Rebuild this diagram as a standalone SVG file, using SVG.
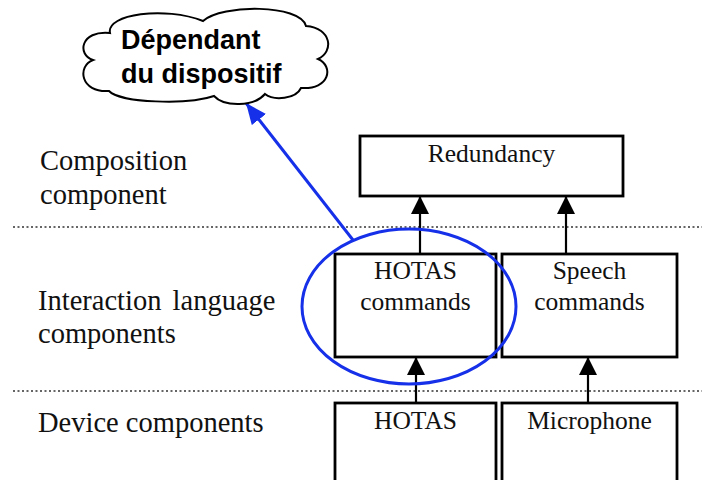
<svg xmlns="http://www.w3.org/2000/svg" width="702" height="480" viewBox="0 0 702 480">
<style>
.box{fill:#fff;stroke:#000;stroke-width:2.8}
.sep{stroke:#333;stroke-width:1.5;stroke-dasharray:2 2.5;fill:none}
.lbl{font-family:"Liberation Serif",serif;font-size:28.5px;fill:#111}
.btx{font-family:"Liberation Serif",serif;font-size:25.5px;fill:#111;text-anchor:middle}
.conn{stroke:#000;stroke-width:2.2;fill:none}
.cloudtx{font-family:"Liberation Sans",Arial,sans-serif;font-size:27px;font-weight:bold;fill:#000}
</style>
<defs>
<marker id="ah" markerUnits="userSpaceOnUse" markerWidth="20" markerHeight="20" viewBox="0 0 20 20" refX="18" refY="10" orient="auto">
<path d="M0,1 L18,10 L0,19 Z" fill="#000"/>
</marker>
<marker id="bh" markerUnits="userSpaceOnUse" markerWidth="22" markerHeight="18" viewBox="0 0 22 18" refX="21" refY="9" orient="auto">
<path d="M0,0 L21,9 L0,18 Z" fill="#1530e8"/>
</marker>
</defs>
<rect width="702" height="480" fill="#fff"/>
<line class="sep" x1="13" y1="227" x2="702" y2="227"/>
<line class="sep" x1="13" y1="391" x2="702" y2="391"/>
<text class="lbl" x="40" y="170">Composition</text>
<text class="lbl" x="40" y="204">component</text>
<text class="lbl" x="38" y="310" word-spacing="4">Interaction language</text>
<text class="lbl" x="38" y="343">components</text>
<text class="lbl" x="38" y="432">Device components</text>
<g id="redundancy">
<rect class="box" x="360" y="136" width="263" height="60"/>
<text class="btx" x="491.5" y="162">Redundancy</text>
</g>
<g id="hotas-commands">
<rect class="box" x="335" y="254" width="161" height="103"/>
<text class="btx" x="415.5" y="279">HOTAS</text>
<text class="btx" x="415.5" y="310">commands</text>
</g>
<g id="speech-commands">
<rect class="box" x="502" y="254" width="175" height="103"/>
<text class="btx" x="589.5" y="279">Speech</text>
<text class="btx" x="589.5" y="310">commands</text>
</g>
<g id="hotas">
<rect class="box" x="335" y="403" width="161" height="90"/>
<text class="btx" x="415.5" y="429">HOTAS</text>
</g>
<g id="microphone">
<rect class="box" x="502" y="403" width="175" height="90"/>
<text class="btx" x="589.5" y="429">Microphone</text>
</g>
<g id="connectors">
<line class="conn" x1="416" y1="403" x2="416" y2="357" marker-end="url(#ah)"/>
<line class="conn" x1="588" y1="403" x2="588" y2="357" marker-end="url(#ah)"/>
<line class="conn" x1="420" y1="254" x2="420" y2="196" marker-end="url(#ah)"/>
<line class="conn" x1="566" y1="254" x2="566" y2="196" marker-end="url(#ah)"/>
<line x1="353" y1="240" x2="246" y2="103" stroke="#1530e8" stroke-width="3" marker-end="url(#bh)"/>
</g>
<g id="highlight">
<ellipse cx="409" cy="306.5" rx="107" ry="77.5" fill="none" stroke="#1530e8" stroke-width="3"/>
</g>
<g id="cloud">
<path d="M110,33 C106,14 165,6 203,21 C222,4 300,4 306,26 C332,28 334,52 318,59 C334,66 330,90 301,88 C296,99 274,101 265,94 C254,107 224,107 214,96 C188,105 120,103 109,91 C80,93 77,66 93,60 C77,55 80,30 110,33 Z" fill="#fff" stroke="#000" stroke-width="2"/>
<text class="cloudtx" x="121" y="49">Dépendant</text>
<text class="cloudtx" x="121" y="83">du dispositif</text>
</g>
</svg>
